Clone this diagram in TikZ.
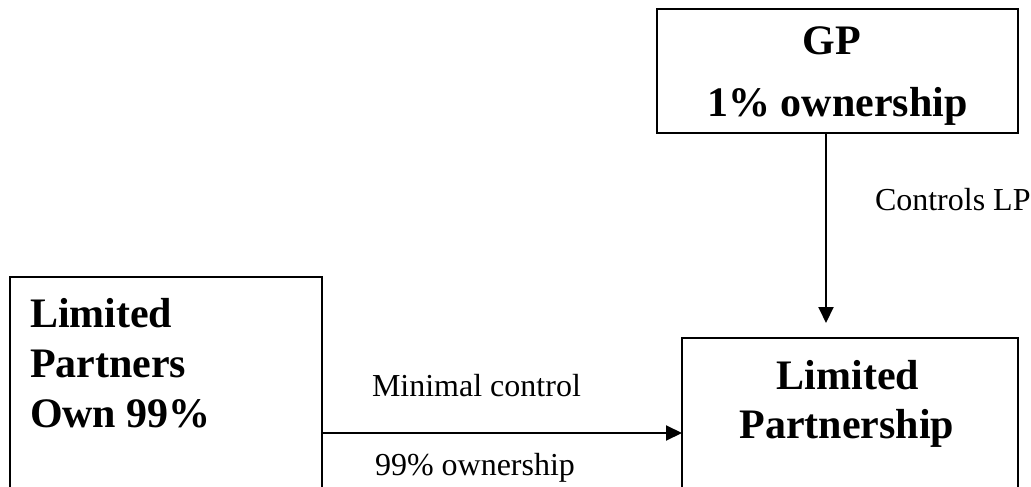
\documentclass[tikz,border=0pt]{standalone}
\usepackage{fontspec}
\setmainfont{Liberation Serif}
\usetikzlibrary{arrows.meta}
\begin{document}
\begin{tikzpicture}[x=1pt,y=-1pt,
  box/.style={draw, line width=2pt, rectangle, inner sep=0pt, outer sep=0pt, anchor=north west},
  title/.style={font=\fontsize{42}{48}\selectfont\bfseries, inner sep=0pt, outer sep=0pt},
  lbl/.style={font=\fontsize{32}{38}\selectfont, inner sep=0pt, outer sep=0pt, anchor=base west},
  arr/.style={line width=2pt, -{Triangle[length=16pt,width=15pt]}}]
  \clip (0,0) rectangle (1031,487);

  % boxes
  \node[box, minimum width=361pt, minimum height=124pt] (gp) at (657,9) {};
  \node[box, minimum width=312pt, minimum height=230pt] (lps) at (10,277) {};
  \node[box, minimum width=336pt, minimum height=200pt] (lp) at (682,338) {};

  % box texts
  \node[title, anchor=base] (gp1) at (832,55) {GP};
  \node[title, anchor=base] (gp2) at (837.5,117) {1\% ownership};
  \node[title, anchor=base west] (lps1) at (30,327) {Limited};
  \node[title, anchor=base west] (lps2) at (30,377) {Partners};
  \node[title, anchor=base west] (lps3) at (30,427) {Own 99\%};
  \node[title, anchor=base] (lp1) at (848,389) {Limited};
  \node[title, anchor=base] (lp2) at (847,438) {Partnership};

  % connectors
  \coordinate (vx) at (826,0);
  \coordinate (hy) at (0,433);
  \draw[arr, shorten >=15pt] (gp.south -| vx) -- (lp.north -| vx);
  \draw[arr] (lps.east |- hy) -- (lp.west |- hy);

  % connector labels
  \node[lbl] (ctl) at (875,210) {Controls LP};
  \node[lbl] (minc) at (372,396) {Minimal control};
  \node[lbl] (own) at (375,475) {99\% ownership};
\end{tikzpicture}
\end{document}
